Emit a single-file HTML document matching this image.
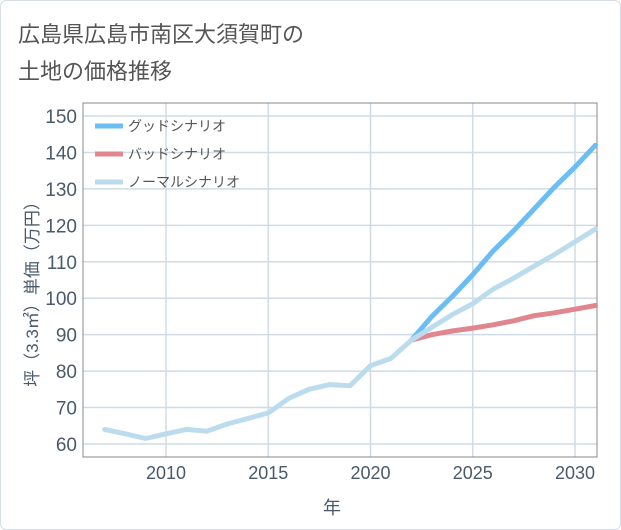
<!DOCTYPE html>
<html><head><meta charset="utf-8"><style>
body{margin:0;background:#fff;font-family:"Liberation Sans","Noto Sans CJK JP",sans-serif}
#card{position:absolute;left:0;top:0;width:619px;height:528px;border:1px solid #d6dde4;border-radius:6px}
</style></head><body>
<div id="card"></div>
<svg id="c" width="621" height="530" style="position:absolute;left:0;top:0">
<text x="18" y="42" font-size="22" fill="#555">広島県広島市南区大須賀町の</text>
<text x="18" y="79" font-size="22" fill="#555">土地の価格推移</text>
</svg>
<script>
const yTicks=[60,70,80,90,100,110,120,130,140,150];
const xTicks=[2010,2015,2020,2025,2030];
const normalYears=[2007,2008,2009,2010,2011,2012,2013,2014,2015,2016,2017,2018,2019,2020,2021,2022,2023,2024,2025,2026,2027,2028,2029,2030,2031];
const normalVals=[64,62.8,61.5,62.8,64,63.5,65.5,67,68.5,72.5,75,76.3,76,81.5,83.5,88.5,92,95.5,98.5,102.5,105.5,108.8,112,115.5,119];
const futYears=[2022,2023,2024,2025,2026,2027,2028,2029,2030,2031];
const goodVals=[88.5,95,100.5,106.5,113,118.5,124.5,130.5,136,142];
const badVals=[88.5,90,91,91.8,92.7,93.8,95.2,96,97,98];
const L=83,R=597,T=103,B=457;
const X=y=>166+(y-2010)*20.45;
const Y=v=>444-(v-60)*3.644;
const s=document.getElementById('c');const NS='http://www.w3.org/2000/svg';
function mk(t,a,p){const e=document.createElementNS(NS,t);for(const k in a)e.setAttribute(k,a[k]);(p||s).appendChild(e);return e;}
let e;
e=mk('rect',{x:L,y:T,width:R-L,height:B-T,fill:'#fff',stroke:'#888','stroke-width':1});

yTicks.forEach(v=>{e=mk('line',{x1:L,x2:R,y1:Y(v),y2:Y(v),stroke:'#d0dbe5','stroke-width':1.5});

e=mk('text',{x:L-6,y:Y(v)+7,'text-anchor':'end','font-size':19,fill:'#4a5a6a'});e.textContent=v;
});
xTicks.forEach(v=>{e=mk('line',{x1:X(v),x2:X(v),y1:T,y2:B,stroke:'#d0dbe5','stroke-width':1.5});

e=mk('text',{x:X(v),y:479,'text-anchor':'middle','font-size':18,fill:'#4a5a6a'});e.textContent=v;
});
mk('rect',{x:L,y:T,width:R-L,height:B-T,fill:'none',stroke:'#888','stroke-width':1});
function line(xs,vs,col,w,name){const d=xs.map((x,i)=>(i?'L':'M')+X(x).toFixed(1)+','+Y(vs[i]).toFixed(1)).join('');
e=mk('path',{d:d,fill:'none',stroke:col,'stroke-width':w,'stroke-linejoin':'round','stroke-linecap':'round'});
}
line(futYears,goodVals,'#6bbdf2',5,'good-scenario-line');
line(futYears,badVals,'#e0868e',5,'bad-scenario-line');
line(normalYears,normalVals,'#bcdcee',5,'normal-scenario-line');
const leg=[['グッドシナリオ','#6bbdf2'],['バッドシナリオ','#e0868e'],['ノーマルシナリオ','#bcdcee']];
leg.forEach((l,i)=>{const y=126+i*28;
e=mk('line',{x1:95,x2:123,y1:y,y2:y,stroke:l[1],'stroke-width':5});

e=mk('text',{x:128,y:y+5,'font-size':14,fill:'#555'});e.textContent=l[0];
});
e=mk('text',{x:0,y:0,'font-size':17,fill:'#4a5a6a','text-anchor':'middle',transform:'translate(38,290) rotate(-90)'});e.textContent='坪（3.3㎡）単価（万円）';

e=mk('text',{x:332,y:514,'font-size':18,fill:'#4a5a6a','text-anchor':'middle'});e.textContent='年';

</script>
</body></html>
